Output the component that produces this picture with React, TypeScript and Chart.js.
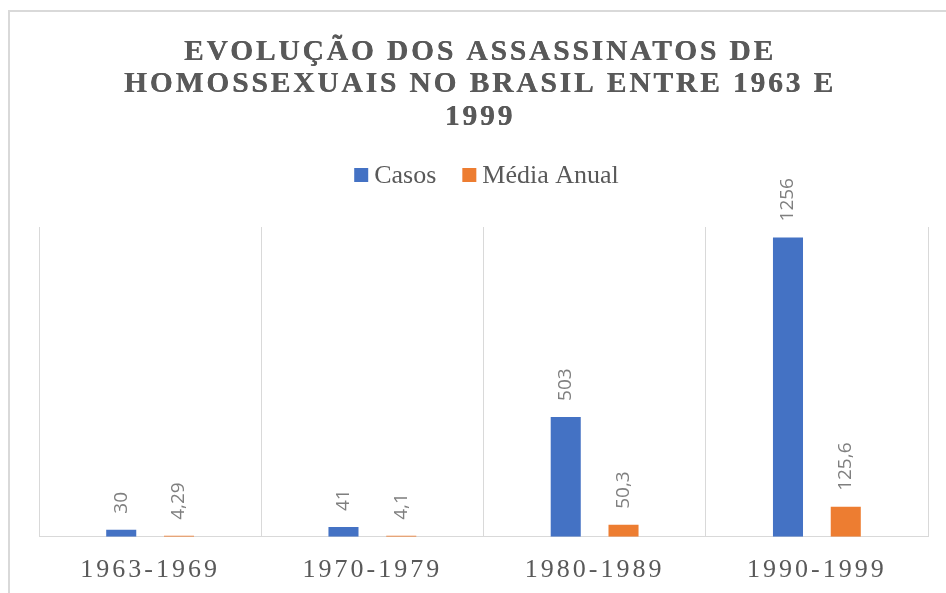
import React, { useEffect, useRef } from 'react';
import { Chart, registerables } from 'chart.js';

Chart.register(...registerables);

const TITLE_LINES = ['EVOLUÇÃO DOS ASSASSINATOS DE', 'HOMOSSEXUAIS NO BRASIL ENTRE 1963 E', '1999'];
const CATEGORIES = ['1963-1969', '1970-1979', '1980-1989', '1990-1999'];
const CASOS = [30, 41, 503, 1256];
const MEDIA_ANUAL = [4.29, 4.1, 50.3, 125.6];
const SERIES_NAMES = ['Casos', 'Média Anual'];
const SERIES_COLORS = ['#4472C4', '#ED7D31'];

const TEXT_COLOR = '#595959';
const LABEL_COLOR = '#7f7f7f';
const GRID_COLOR = '#d9d9d9';

function drawSpaced(ctx: CanvasRenderingContext2D, text: string, cx: number, y: number, spacing: number) {
  (ctx as any).letterSpacing = spacing + 'px';
  const w = ctx.measureText(text).width;
  ctx.textAlign = 'left';
  ctx.fillText(text, cx - (w - spacing) / 2, y);
}

const decorPlugin = {
  id: 'decor',
  beforeDraw(chart: any) {
    (chart.ctx as any).letterSpacing = '3px';
  },
  afterDatasetsDraw(chart: any) {
    const ctx: CanvasRenderingContext2D = chart.ctx;
    ctx.save();
    (ctx as any).letterSpacing = '0px';
    ctx.font = '19px "Open Sans"';
    ctx.fillStyle = LABEL_COLOR;
    ctx.textAlign = 'left';
    ctx.textBaseline = 'middle';
    chart.data.datasets.forEach((ds: any, di: number) => {
      const meta = chart.getDatasetMeta(di);
      meta.data.forEach((bar: any, i: number) => {
        const txt = String(ds.data[i]).replace('.', ',');
        ctx.save();
        ctx.translate(bar.x, bar.y - 16);
        ctx.rotate(-Math.PI / 2);
        ctx.fillText(txt, 0, 0);
        ctx.restore();
      });
    });
    ctx.restore();
  },
  afterDraw(chart: any) {
    const ctx: CanvasRenderingContext2D = chart.ctx;
    ctx.save();
    // title
    ctx.fillStyle = TEXT_COLOR;
    ctx.textBaseline = 'alphabetic';
    ctx.font = 'bold 29.5px "Liberation Serif"';
    const titleBaselines = [59.5, 92, 124.5];
    TITLE_LINES.forEach((line, i) => {
      drawSpaced(ctx, line, 478.5, titleBaselines[i], 2.85);
      drawSpaced(ctx, line, 478.9, titleBaselines[i], 2.85);
    });
    // legend
    (ctx as any).letterSpacing = '0px';
    ctx.font = '26px "Liberation Serif"';
    const box = 14, gapBox = 6, gapItems = 26;
    const widths = SERIES_NAMES.map((n) => box + gapBox + ctx.measureText(n).width);
    const total = widths.reduce((a, b) => a + b, 0) + gapItems * (widths.length - 1);
    let x = 486.5 - total / 2;
    SERIES_NAMES.forEach((n, i) => {
      ctx.fillStyle = SERIES_COLORS[i];
      ctx.fillRect(x, 168, box, box);
      ctx.fillStyle = TEXT_COLOR;
      ctx.textAlign = 'left';
      ctx.fillText(n, x + box + gapBox, 183);
      x += widths[i] + gapItems;
    });
    ctx.restore();
    (ctx as any).letterSpacing = '0px';
  },
};

export default function App() {
  const ref = useRef<HTMLCanvasElement | null>(null);
  useEffect(() => {
    if (!ref.current) return;
    const chart = new Chart(ref.current, {
      type: 'bar',
      data: {
        labels: CATEGORIES,
        datasets: [
          { label: SERIES_NAMES[0], data: CASOS, backgroundColor: SERIES_COLORS[0] },
          { label: SERIES_NAMES[1], data: MEDIA_ANUAL, backgroundColor: SERIES_COLORS[1] },
        ],
      },
      options: {
        animation: false,
        responsive: false,
        devicePixelRatio: 1,
        layout: { padding: { left: 39, right: 18, top: 227, bottom: -11 } },
        datasets: { bar: { categoryPercentage: 0.52, barPercentage: 0.52 } } as any,
        plugins: {
          legend: { display: false },
          title: { display: false },
          tooltip: { enabled: false },
        },
        scales: {
          x: {
            grid: { display: true, color: GRID_COLOR, lineWidth: 1, drawTicks: false, offset: true },
            border: { display: true, color: GRID_COLOR, width: 1 },
            ticks: {
              color: TEXT_COLOR,
              padding: 18,
              font: { family: '"Liberation Serif"', size: 26 },
              maxRotation: 0,
              autoSkip: false,
            },
          },
          y: {
            display: false,
            min: 0,
            max: 1300,
          },
        },
      },
      plugins: [decorPlugin],
    });
    return () => chart.destroy();
  }, []);

  return (
    <div style={{ position: 'fixed', left: 0, top: 0, width: 946, height: 593, overflow: 'hidden', background: '#fff' }}>
      <div
        style={{
          position: 'absolute',
          left: 8,
          top: 10,
          width: 1200,
          height: 800,
          borderLeft: '2px solid ' + GRID_COLOR,
          borderTop: '2px solid ' + GRID_COLOR,
        }}
      />
      <canvas ref={ref} width={946} height={593} style={{ position: 'absolute', left: 0, top: 0, width: 946, height: 593 }} />
    </div>
  );
}
